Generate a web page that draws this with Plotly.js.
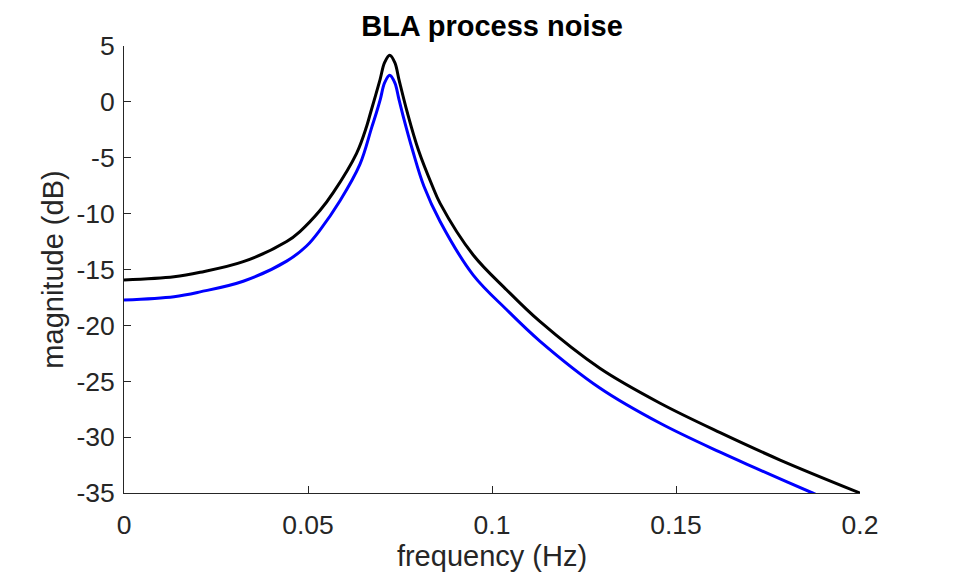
<!DOCTYPE html>
<html>
<head>
<meta charset="utf-8">
<script src="https://cdn.plot.ly/plotly-3.0.1.min.js"></script>
<style>
  html, body { margin: 0; padding: 0; background: #fff; }
  #bla_noise { width: 953px; height: 577px; }
</style>
</head>
<body>
<div id="bla_noise"></div>
<script>
// values (frequency in Hz, magnitude in dB)
var blackFreq = [0, 0.0136, 0.0207, 0.0324, 0.0442, 0.0478, 0.0533, 0.0569, 0.0632,
                 0.0659, 0.0670, 0.0696, 0.0708, 0.0722, 0.0736, 0.0747, 0.0770, 0.0800,
                 0.0838, 0.0859, 0.0949, 0.1040, 0.1130, 0.1293, 0.1457, 0.1620, 0.1783, 0.2];
var blackMag = [-15.94, -15.65, -15.25, -14.3, -12.5, -11.6, -9.7, -8.1, -4.6,
                -2.22, -0.97, 2.02, 3.51, 4.17, 3.51, 2.02, -0.97, -4.31,
                -7.53, -9.08, -13.7, -16.83, -19.65, -23.84, -26.97, -29.6, -32.05, -35];

var blueFreq = [0, 0.0136, 0.0207, 0.0324, 0.0442, 0.0496, 0.0533, 0.0587, 0.0641, 0.0673,
                0.0686, 0.0697, 0.0708, 0.0722, 0.0736, 0.0747, 0.0760, 0.0784, 0.0815,
                0.0859, 0.0949, 0.1040, 0.1130, 0.1293, 0.1457, 0.1620, 0.1715, 0.1871, 0.2];
var blueMag = [-17.73, -17.43, -17.0, -16.05, -14.25, -12.9, -11.45, -8.85, -5.6, -2.3,
               -0.95, 0.3, 1.7, 2.38, 1.7, 0.25, -1.45, -4.31, -7.55,
               -10.7, -15.5, -18.6, -21.4, -25.6, -28.76, -31.35, -32.75, -35.0, -36.8];

var xTicks = [0, 0.05, 0.1, 0.15, 0.2];
var xTickText = ["0", "0.05", "0.1", "0.15", "0.2"];
var yTicks = [-35, -30, -25, -20, -15, -10, -5, 0, 5];
var yTickText = ["-35", "-30", "-25", "-20", "-15", "-10", "-5", "0", "5"];

var axisColor = '#262626';
var fontFam = 'Liberation Sans, Arial, Helvetica, sans-serif';

var traceBlack = {
  x: blackFreq,
  y: blackMag,
  type: 'scatter',
  mode: 'lines',
  line: {color: '#000000', width: 3, shape: 'spline', smoothing: 1},
  hoverinfo: 'x+y'
};
var traceBlue = {
  x: blueFreq,
  y: blueMag,
  type: 'scatter',
  mode: 'lines',
  line: {color: '#0000ff', width: 3, shape: 'spline', smoothing: 1},
  hoverinfo: 'x+y'
};

var data = [traceBlue, traceBlack];

var layout = {
  width: 953,
  height: 577,
  showlegend: false,
  paper_bgcolor: '#ffffff',
  plot_bgcolor: '#ffffff',
  margin: {l: 124, r: 93, t: 46, b: 84},
  font: {family: fontFam, color: axisColor},
  title: {
    text: '<b>BLA process noise</b>',
    font: {family: fontFam, size: 29, color: '#000000'},
    x: 0.5, xref: 'paper', xanchor: 'center',
    y: 0.955, yref: 'container', yanchor: 'middle'
  },
  xaxis: {
    range: [0, 0.2],
    tickvals: xTicks,
    ticktext: xTickText,
    ticks: 'inside',
    ticklen: 7,
    tickwidth: 1,
    tickcolor: axisColor,
    ticklabelstandoff: 8,
    showline: true,
    linecolor: axisColor,
    linewidth: 1,
    mirror: false,
    showgrid: false,
    zeroline: false,
    tickfont: {family: fontFam, size: 26.5, color: axisColor},
    title: {text: 'frequency (Hz)', font: {family: fontFam, size: 29, color: axisColor}, standoff: 6},
    automargin: false
  },
  yaxis: {
    range: [-35, 5],
    tickvals: yTicks,
    ticktext: yTickText,
    ticks: 'inside',
    ticklen: 7,
    tickwidth: 1,
    tickcolor: axisColor,
    ticklabelstandoff: 3,
    showline: true,
    linecolor: axisColor,
    linewidth: 1,
    mirror: false,
    showgrid: false,
    zeroline: false,
    tickfont: {family: fontFam, size: 26.5, color: axisColor},
    title: {text: 'magnitude (dB)', font: {family: fontFam, size: 29, color: axisColor}, standoff: 4},
    automargin: false
  }
};

Plotly.newPlot('bla_noise', data, layout, {displayModeBar: false, staticPlot: true});
</script>
</body>
</html>
